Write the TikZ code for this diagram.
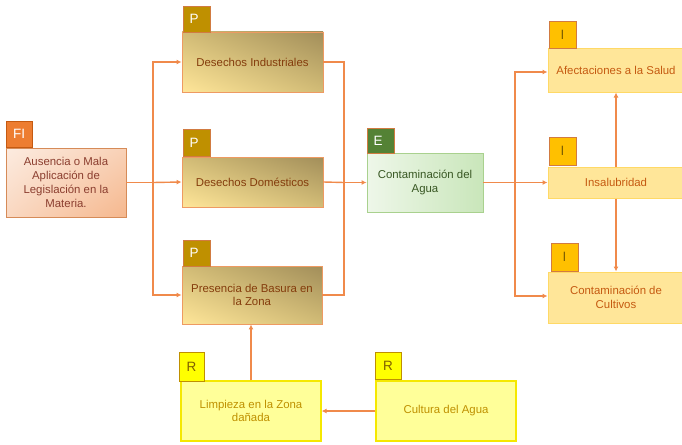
\documentclass[tikz,border=0pt]{standalone}
\usepackage{fontspec}
\setmainfont{Liberation Sans}
\usetikzlibrary{arrows.meta,shadings}

\definecolor{lineor}{HTML}{F08A4B}
\definecolor{fitag}{HTML}{ED7D31}
\definecolor{tagedge}{HTML}{C55A11}
\definecolor{fitext}{HTML}{8B3E2F}
\definecolor{ptag}{HTML}{BF9000}
\definecolor{ptext}{HTML}{843C0C}
\definecolor{pedge}{HTML}{EE9A62}
\definecolor{etag}{HTML}{548235}
\definecolor{etext}{HTML}{385723}
\definecolor{eedge}{HTML}{A9D18E}
\definecolor{elight}{HTML}{EEF7E9}
\definecolor{edark}{HTML}{C9E6BA}
\definecolor{itag}{HTML}{FFC000}
\definecolor{ifill}{HTML}{FFE699}
\definecolor{iedge}{HTML}{FFD966}
\definecolor{itext}{HTML}{C55A11}
\definecolor{dtext}{HTML}{7F6000}
\definecolor{rfill}{HTML}{FFFF99}
\definecolor{redge}{HTML}{F5E800}
\definecolor{rtag}{HTML}{FFFF00}
\definecolor{rtext}{HTML}{BF9000}
\definecolor{pdark}{RGB}{162,142,90}
\definecolor{pmid}{RGB}{210,188,118}

\tikzset{
  conn/.style={draw=lineor, line width=1.4pt, -{Latex[length=5pt,width=5pt]}},
  plain/.style={draw=lineor, line width=1.4pt},
  card/.style 2 args={rectangle, inner sep=0pt, minimum width=#1, minimum height=#2,
    align=center, font=\fontsize{11.4}{13.8}\selectfont},
  tag/.style 2 args={rectangle, inner sep=0pt, minimum width=#1, minimum height=#2,
    font=\fontsize{13.5}{15}\selectfont, line width=0.8pt},
  leftish/.style={text depth=0pt, execute at begin node={\hspace*{-5pt}}},
  fibox/.style={draw=tagedge!70, line width=0.8pt, text=fitext,
    upper left=fitag!15, upper right=fitag!35,
    lower left=fitag!30, lower right=fitag!55},
  pbox/.style={draw=pedge, line width=0.9pt, text=ptext,
    lower left=ifill, upper right=pdark, upper left=pmid, lower right=pmid},
  ebox/.style={draw=eedge, line width=0.9pt, text=etext,
    left color=elight, right color=edark},
  ibox/.style={draw=iedge, line width=1pt, fill=ifill, text=itext},
  rbox/.style={draw=redge, line width=1.2pt, fill=rfill, text=rtext},
}

\begin{document}
\begin{tikzpicture}[x=1pt, y=-1pt]
\useasboundingbox (0,0) rectangle (682,444);

% cause
\node[card={120pt}{69pt}, fibox] (fi) at (66,182.5)
  {Ausencia o Mala\\Aplicación de\\Legislación en la\\Materia.};
\node[tag={26pt}{26pt}, fill=fitag, draw=tagedge, text=white] (fit) at (19,134) {FI};

% problems
\node[card={141pt}{60pt}, pbox] (di) at (252.5,62) {Desechos Industriales};
\node[tag={27pt}{26pt}, fill=ptag, draw=tagedge!80, text=white, leftish] (dit) at (196.5,19) {P};
\node[card={141pt}{50pt}, pbox] (dd) at (252.5,182) {Desechos Domésticos};
\node[tag={27pt}{27pt}, fill=ptag, draw=tagedge!80, text=white, leftish] (ddt) at (196.5,143) {P};
\node[card={140pt}{58pt}, pbox] (pb) at (252,295) {Presencia de Basura en\\la Zona};
\node[tag={27pt}{26pt}, fill=ptag, draw=tagedge!80, text=white, leftish] (pbt) at (196.5,253) {P};

% effect
\node[card={116pt}{59pt}, ebox] (ca) at (425,182.5) {Contaminación del\\Agua};
\node[tag={27pt}{25pt}, fill=etag, draw=tagedge!80, text=white, leftish] (cat) at (380.5,140.5) {E};

% impacts
\node[card={136pt}{43pt}, ibox] (af) at (616,70.5) {Afectaciones a la Salud};
\node[tag={27pt}{27pt}, fill=itag, draw=tagedge!80, text=dtext] (aft) at (562.5,34.5) {I};
\node[card={136pt}{31pt}, ibox] (in) at (616,182.5) {Insalubridad};
\node[tag={27pt}{28pt}, fill=itag, draw=tagedge!80, text=dtext] (int) at (562.5,151) {I};
\node[card={136pt}{51pt}, ibox] (cu) at (616,297.5) {Contaminación de\\Cultivos};
\node[tag={27pt}{28pt}, fill=itag, draw=tagedge!80, text=dtext] (cut) at (564.5,257) {I};

% responses
\node[card={140pt}{60pt}, rbox] (li) at (251,411) {Limpieza en la Zona\\dañada};
\node[tag={25pt}{29pt}, fill=rtag, draw=ptag, text=dtext] (lit) at (191.5,367) {R};
\node[card={140pt}{60pt}, rbox] (cl) at (446,411) {Cultura del Agua};
\node[tag={26pt}{27pt}, fill=rtag, draw=ptag, text=dtext] (clt) at (388,365.5) {R};

% junction points
\coordinate (j1) at (153,182.5);
\coordinate (j2) at (344,182.5);
\coordinate (j2b) at (344,295);
\coordinate (j3) at (515,182.5);

% cause -> problems
\draw[plain] (fi.east) -- (j1);
\draw[conn] (j1) |- (di.west);
\draw[conn] (j1) -- (dd.west);
\draw[conn] (j1) |- (pb.west);

% problems -> effect
\draw[plain] (di.east) -| (j2b) -- (pb.east);
\draw[plain] (dd.east) -- (j2);
\draw[conn] (j2) -- (ca.west);

% effect -> impacts
\draw[plain] (ca.east) -- (j3);
\draw[conn] (j3) |- ([yshift=-1.5pt]af.west);
\draw[conn] (j3) -- (in.west);
\draw[conn] (j3) |- ([yshift=1.5pt]cu.west);
\draw[conn] (in.north) -- (af.south);
\draw[conn] (in.south) -- (cu.north);

% responses
\draw[conn] (cl.west) -- (li.east);
\draw[conn] (li.north) -- (li.north |- pb.south);
\end{tikzpicture}
\end{document}
